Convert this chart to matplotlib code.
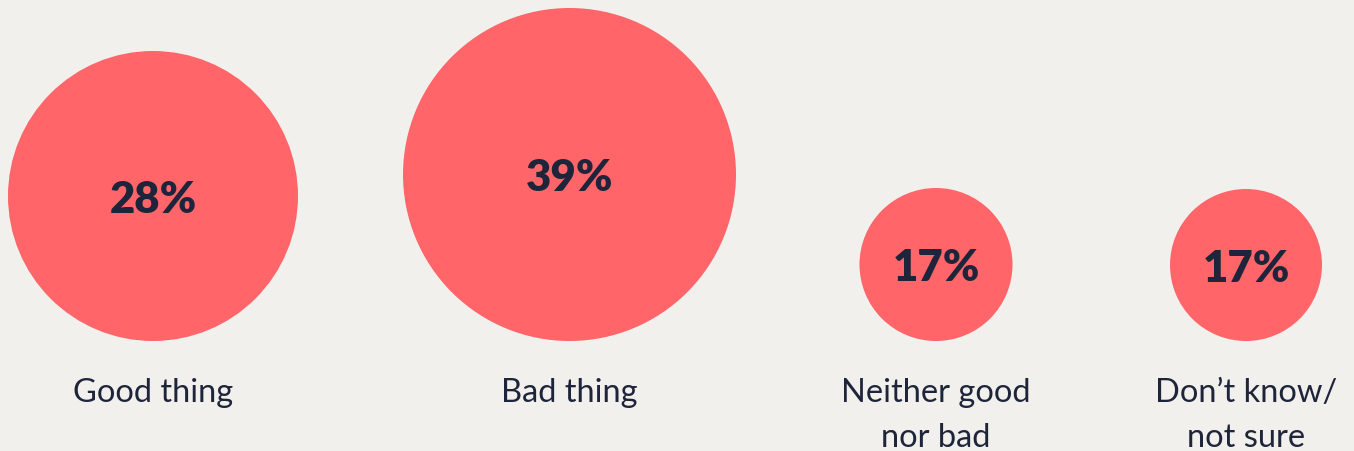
import matplotlib.pyplot as plt
from matplotlib.patches import Circle

# survey answers
categories = ["Good thing", "Bad thing", "Neither good\nnor bad", "Don\u2019t know/\nnot sure"]
values = [28, 39, 17, 17]

# layout (pixels)
centers_x = [153, 569.5, 936, 1246]
radii = [145, 166.5, 76.5, 76]
base_y = 342

bg = "#F2F0EC"
red = "#FF6569"
ink = "#1E253A"

plt.rcParams['font.family'] = ['Lato', 'DejaVu Sans']

fig = plt.figure(figsize=(13.54, 4.52), dpi=100, facecolor=bg)
ax = fig.add_axes([0, 0, 1, 1])
ax.set_facecolor(bg)
ax.set_xlim(0, 1354)
ax.set_ylim(452, 0)
ax.set_aspect('equal')
ax.axis('off')

for cat, v, cx, r in zip(categories, values, centers_x, radii):
    cy = base_y - r
    ax.add_patch(Circle((cx, cy), r, color=red, lw=0))
    ax.text(cx, cy + 16, "{0}%".format(v), ha='center', va='baseline',
            fontsize=31.5, fontweight='heavy', color=ink)
    for i, line in enumerate(cat.split("\n")):
        ax.text(cx, 402 + i*45, line, ha='center', va='baseline',
                fontsize=23.5, color=ink)

fig.savefig("out.png", dpi=100, facecolor=bg)
